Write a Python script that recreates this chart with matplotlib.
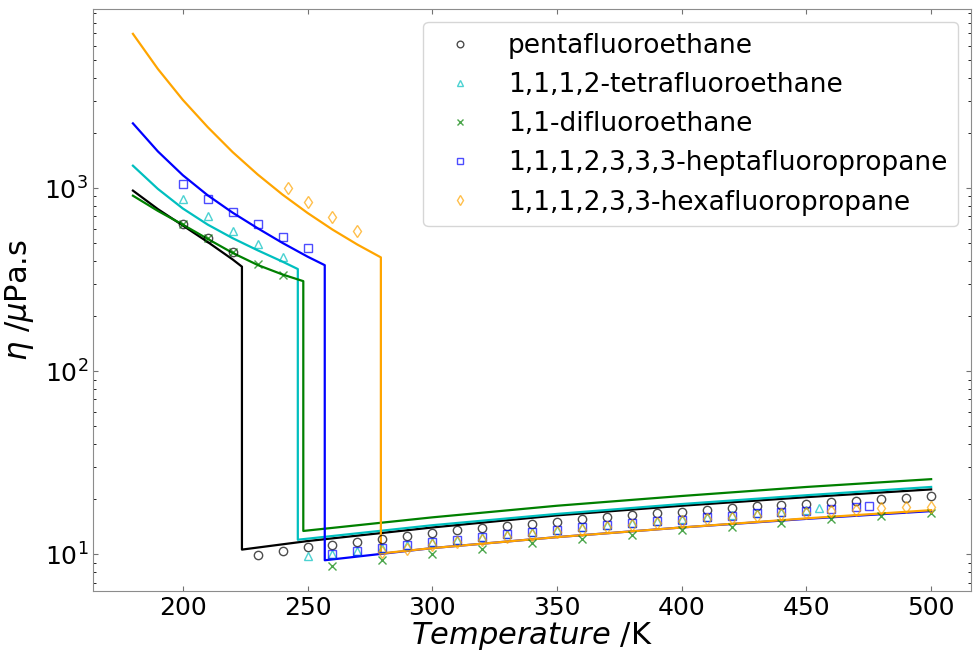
import matplotlib.pyplot as plt

plt.rcParams.update({
    'font.family': 'DejaVu Sans',
    'xtick.direction': 'in',
    'ytick.direction': 'in',
    'xtick.top': True,
    'ytick.right': True,
})

# model curves: liquid branch, jump at boiling point, gas branch
r125_T   = [180, 190, 200, 210, 220, 223.7, 223.7, 250, 300, 350, 400, 450, 500]
r125_eta = [968, 767, 624, 507, 407, 372, 10.6, 11.8, 14.0, 16.3, 18.4, 20.5, 22.6]
r134_T   = [180, 190, 200, 210, 220, 230, 240, 246.1, 246.1, 300, 350, 400, 450, 500]
r134_eta = [1324, 989, 773, 631, 532, 457, 396, 361, 12.0, 14.4, 16.6, 18.8, 21.0, 23.3]
r152_T   = [180, 190, 200, 210, 220, 230, 240, 248.3, 248.3, 300, 350, 400, 450, 500]
r152_eta = [908, 750, 631, 527, 442, 380, 337, 310, 13.4, 15.9, 18.4, 20.8, 23.3, 25.7]
r227_T   = [180, 190, 200, 210, 220, 230, 240, 250, 256.9, 256.9, 300, 350, 400, 450, 500]
r227_eta = [2255, 1585, 1175, 912, 733, 603, 501, 422, 379, 9.27, 10.8, 12.4, 14.0, 15.6, 17.2]
r236_T   = [180, 190, 200, 210, 220, 230, 240, 250, 260, 270, 279.4, 279.4, 300, 350, 400, 450, 500]
r236_eta = [6950, 4470, 3030, 2150, 1570, 1186, 920, 731, 593, 491, 418,
            10.1, 10.8, 12.4, 14.0, 15.7, 17.4]

# experimental points
r125_xT = [200, 210, 220, 230, 240, 250, 260, 270, 280, 290, 300, 310, 320, 330, 340,
           350, 360, 370, 380, 390, 400, 410, 420, 430, 440, 450, 460, 470, 480, 490, 500]
r125_x  = [635, 533, 449, 9.9, 10.4, 11.0, 11.3, 11.7, 12.1, 12.6, 13.0, 13.5, 13.9, 14.3, 14.7,
           15.0, 15.5, 16.0, 16.3, 16.7, 17.0, 17.4, 17.8, 18.3, 18.5, 18.8, 19.2, 19.6, 20.0, 20.3, 20.8]
r134_xT = [200, 210, 220, 230, 240, 250, 260, 270, 280, 290, 300, 310, 320, 330, 340,
           350, 360, 370, 380, 390, 400, 410, 420, 430, 440, 450, 455]
r134_x  = [871, 703, 582, 494, 421, 9.75, 10.0, 10.4, 10.8, 11.2, 11.7, 12.0, 12.4, 12.9, 13.2,
           13.6, 14.1, 14.5, 14.9, 15.2, 15.5, 16.0, 16.3, 16.8, 17.0, 17.4, 17.8]
r152_xT = [200, 210, 220, 230, 240, 260, 280, 300, 320, 340, 360, 380, 400, 420, 440, 460, 480, 500]
r152_x  = [640, 535, 450, 387, 337, 8.63, 9.35, 10.0, 10.7, 11.5, 12.1, 12.8, 13.5, 14.1, 14.8,
           15.5, 16.1, 16.8]
r227_xT = [200, 210, 220, 230, 240, 250, 260, 270, 280, 290, 300, 310, 320, 330, 340, 350,
           360, 370, 380, 390, 400, 410, 420, 430, 440, 450, 460, 470, 475]
r227_x  = [1047, 871, 743, 634, 542, 469, 10.0, 10.4, 10.8, 11.2, 11.7, 12.0, 12.4, 12.9, 13.2, 13.6,
           14.0, 14.5, 14.8, 15.1, 15.4, 15.9, 16.2, 16.7, 17.0, 17.3, 17.6, 18.0, 18.3]
r236_xT = [242, 250, 260, 270, 280, 290, 300, 310, 320, 330, 340, 350, 360, 370, 380, 390,
           400, 410, 420, 430, 440, 450, 460, 470, 480, 490, 500]
r236_x  = [995, 841, 697, 585, 10.3, 10.7, 11.2, 11.6, 12.0, 12.4, 12.8, 13.2, 13.6, 14.0, 14.4, 14.8,
           15.1, 15.5, 15.8, 16.2, 16.5, 16.9, 17.2, 17.5, 17.8, 18.0, 18.2]

fig = plt.figure(figsize=(9.73, 6.52), dpi=100)
ax = fig.add_axes([0.0956, 0.0936, 0.9024, 0.8926])

ax.plot(r125_T, r125_eta, color='k', lw=1.6)
ax.plot(r134_T, r134_eta, color='c', lw=1.6)
ax.plot(r152_T, r152_eta, color='g', lw=1.6)
ax.plot(r227_T, r227_eta, color='b', lw=1.6)
ax.plot(r236_T, r236_eta, color='orange', lw=1.6)

mk = dict(ls='none', ms=6, mfc='none', mew=1.0, alpha=0.7)
ax.plot(r125_xT, r125_x, marker='o', mec='k', label='pentafluoroethane', **mk)
ax.plot(r134_xT, r134_x, marker='^', mec='c', label='1,1,1,2-tetrafluoroethane', **mk)
ax.plot(r152_xT, r152_x, marker='x', mec='g', label='1,1-difluoroethane', **mk)
ax.plot(r227_xT, r227_x, marker='s', mec='b', label='1,1,1,2,3,3,3-heptafluoropropane', **mk)
ax.plot(r236_xT, r236_x, marker='d', mec='orange', label='1,1,1,2,3,3-hexafluoropropane', **mk)

ax.set_yscale('log')
ax.set_xlim(164, 516)
ax.set_ylim(6.3, 9500)
ax.set_xlabel(r'$Temperature$ /K', fontsize=22, labelpad=0)
ax.set_ylabel(r'$\eta$ /$\mu$Pa.s', fontsize=22, labelpad=6)
ax.tick_params(labelsize=18, colors='0.45', labelcolor='k')
for s in ax.spines.values():
    s.set_color('0.55')
ax.legend(loc='upper right', fontsize=19, markerscale=0.8)

fig.savefig('out.png', dpi=100)
